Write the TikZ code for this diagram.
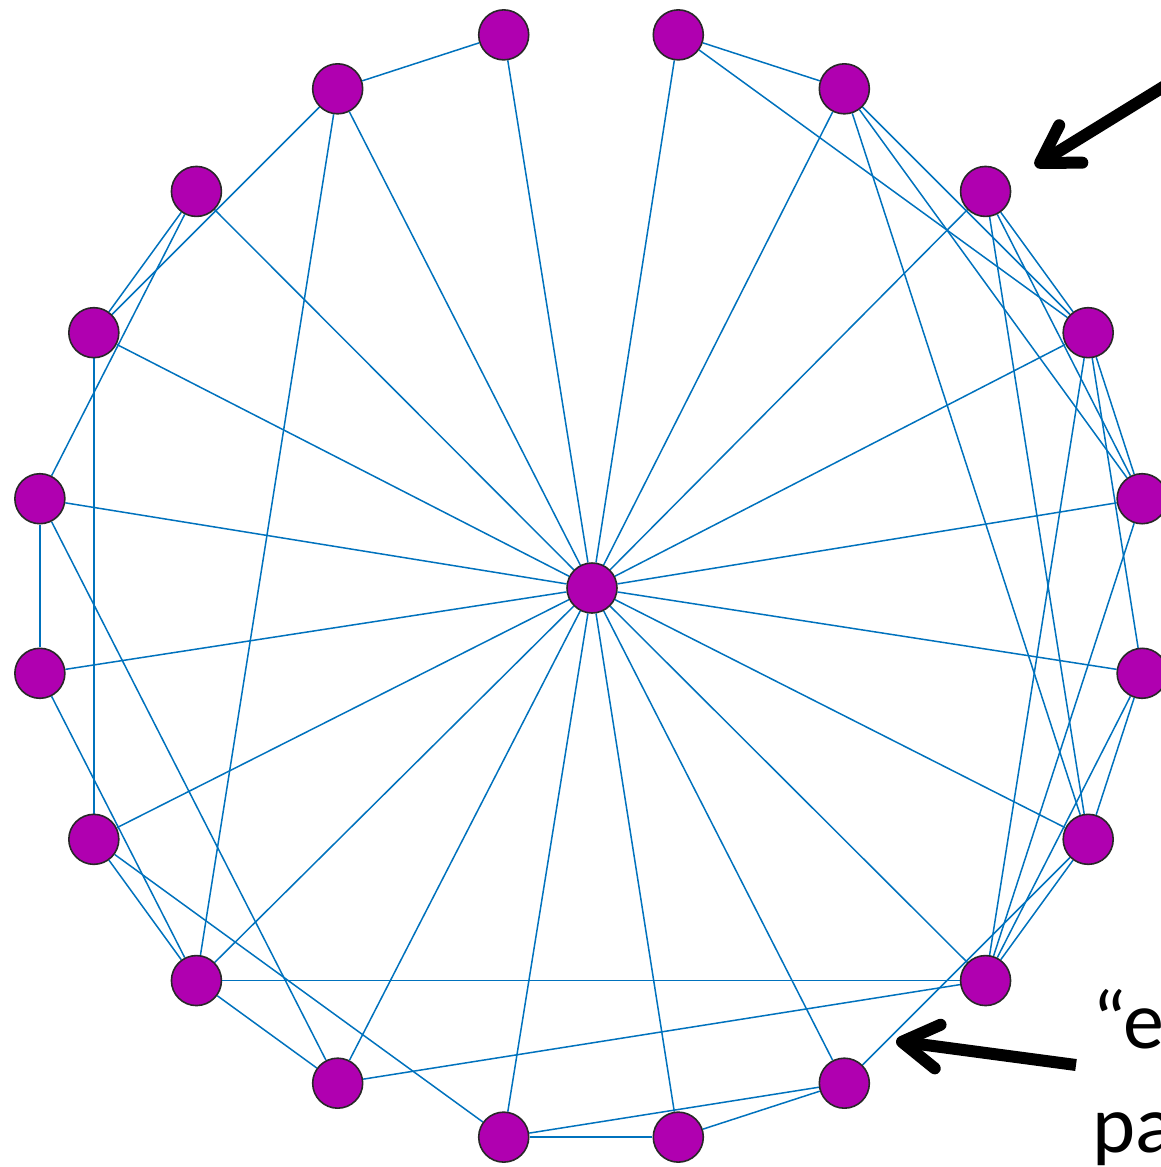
\documentclass[tikz,border=0pt]{standalone}
\usepackage{fontspec}
\newfontfamily\annfont{Carlito}
\usetikzlibrary{arrows.meta,backgrounds}
\definecolor{edgeblue}{RGB}{0,114,189}
\definecolor{vtxfill}{RGB}{176,0,176}
\definecolor{vtxline}{RGB}{40,40,40}
\tikzset{
  vtx/.style={circle, fill=vtxfill, draw=vtxline, line width=1.6pt, minimum size=50pt, inner sep=0pt},
  edgeline/.style={draw=edgeblue, line width=1.5pt},
  bigarrow/.style={line width=12pt, -{Straight Barb[length=36pt, width=44pt, round]}},
  anntext/.style={font=\annfont\fontsize{82}{100}\selectfont, anchor=base west, inner sep=0pt}
}
\begin{document}
\begin{tikzpicture}[x=1pt,y=-1pt]
\useasboundingbox (0,0) rectangle (1161,1167);
\clip (0,0) rectangle (1161,1167);
\node[vtx] (C) at (592,588) {};
\foreach \n/\a in {T2/81,R1/63,R2/45,R3/27,R4/9,R5/-9,R6/-27,R7/-45,R8/-63,B2/-81,B1/-99,L8/-117,L7/-135,L6/-153,L5/-171,L4/171,L3/153,L2/135,L1/117,T1/99}
  \node[vtx] (\n) at ({591+558*cos(\a)},{586-558*sin(\a)}) {};
\begin{scope}[on background layer]
\foreach \b in {T1,T2,R1,R2,R3,R4,R5,R6,R7,R8,B2,B1,L8,L7,L6,L5,L4,L3,L2,L1}
  \draw[edgeline] (C) -- (\b);
\foreach \a/\b in {T1/L1,L1/L3,L1/L7,L2/L3,L2/L4,L3/L6,L4/L5,L4/L8,L5/L7,L6/L7,L6/B1,L7/L8,L7/R7,L8/R7,B1/B2,B1/R8,B2/R8,R8/R6,T2/R1,T2/R3,R1/R3,R1/R4,R1/R6,R2/R3,R2/R4,R2/R6,R3/R4,R3/R5,R3/R7,R4/R7,R5/R6,R5/R7,R6/R7}
  \draw[edgeline] (\a) -- (\b);
\end{scope}
\coordinate (a1s) at (1168,84);
\coordinate (a1e) at (1035,166);
\draw[bigarrow] (a1s) -- (a1e);
\coordinate (a2s) at (1076,1065);
\coordinate (a2e) at (896,1041);
\draw[bigarrow] (a2s) -- (a2e);
\node[anntext] (t1) at (1092,1048) {“e};
\node[anntext] (t2) at (1092,1152) {pa};
\end{tikzpicture}
\end{document}
